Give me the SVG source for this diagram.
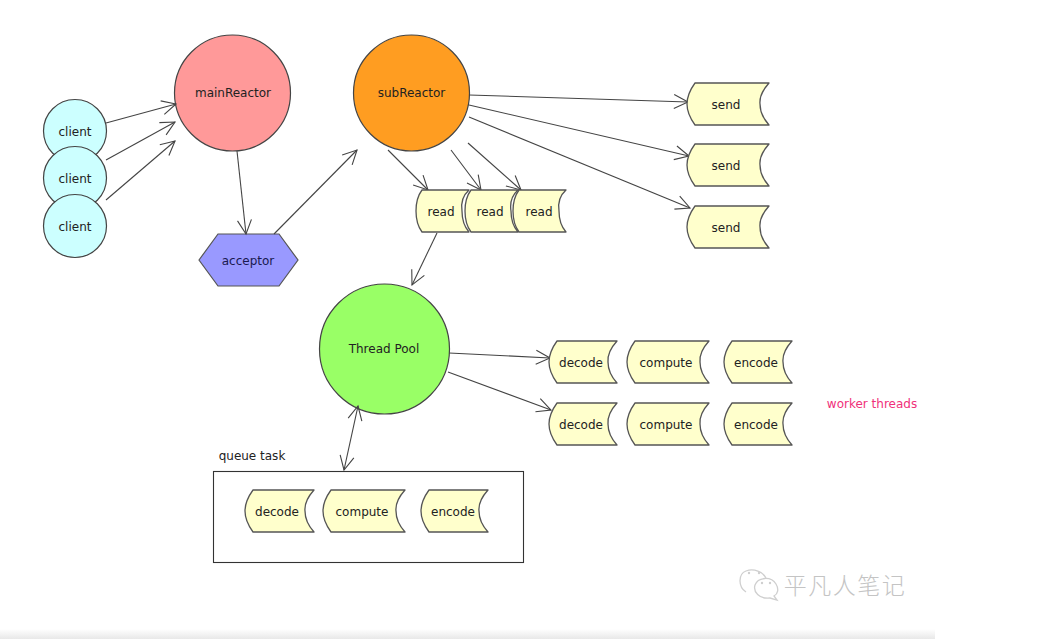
<svg xmlns="http://www.w3.org/2000/svg" width="1056" height="639" viewBox="0 0 1056 639">
  <style>
    text { font-family: "DejaVu Sans", "Noto Sans", sans-serif; font-size: 12px; fill: #222; text-anchor: middle; }
    .step { fill: #ffffcc; stroke: #555; stroke-width: 1.3; stroke-linejoin: round; }
    .round { stroke: #444; stroke-width: 1.2; }
    .wire { fill: none; stroke: #444; stroke-width: 1.1; marker-end: url(#open); }
    .wire2 { fill: none; stroke: #444; stroke-width: 1.1; marker-start: url(#openStart); marker-end: url(#open); }
    .mark { fill: none; stroke: #cfcfcf; stroke-width: 1.3; }
    .dot { fill: #cfcfcf; }
  </style>
  <defs>
    <marker id="open" markerUnits="userSpaceOnUse" markerWidth="20" markerHeight="20" refX="15" refY="10" orient="auto">
      <path d="M1 3 L15 10 L1 17" fill="none" stroke="#444" stroke-width="1.1"/>
    </marker>
    <marker id="openStart" markerUnits="userSpaceOnUse" markerWidth="20" markerHeight="20" refX="5" refY="10" orient="auto">
      <path d="M19 3 L5 10 L19 17" fill="none" stroke="#444" stroke-width="1.1"/>
    </marker>
    <linearGradient id="floor" x1="0" y1="0" x2="0" y2="1">
      <stop offset="0" stop-color="#fff"/>
      <stop offset="1" stop-color="#e8e8e8"/>
    </linearGradient>
  </defs>

  <rect width="1056" height="639" fill="#fff"/>
  <rect x="0" y="629" width="935" height="10" fill="url(#floor)"/>

  <g id="queue-frame">
    <rect x="213.500" y="471.500" width="310" height="91" fill="#fff" stroke="#333" stroke-width="1.1"/>
    <text x="252" y="460">queue task</text>
  </g>

  <g id="client-1"><circle class="round" cx="75" cy="131" r="31.500" fill="#ccffff"/><text x="75" y="136">client</text></g>
  <g id="client-2"><circle class="round" cx="75" cy="178" r="31.500" fill="#ccffff"/><text x="75" y="183">client</text></g>
  <g id="client-3"><circle class="round" cx="75" cy="226" r="31.500" fill="#ccffff"/><text x="75" y="231">client</text></g>

  <g id="mainReactor"><circle class="round" cx="232.500" cy="93" r="58" fill="#ff9999"/><text x="233" y="97">mainReactor</text></g>
  <g id="subReactor"><circle class="round" cx="411.500" cy="93" r="58" fill="#ff9d21"/><text x="411.500" y="97">subReactor</text></g>
  <g id="threadPool"><circle class="round" cx="384.500" cy="349" r="65" fill="#99ff66"/><text x="384" y="353">Thread Pool</text></g>

  <g id="acceptor">
    <path d="M199 260 L218 234 L279 234 L298 260 L279 286 L218 286 Z" fill="#9999ff" stroke="#555" stroke-width="1.2"/>
    <text x="248" y="265" style="fill:#1a1a50">acceptor</text>
  </g>

  <g id="connectors">
    <path class="wire" d="M106 123 L176 104"/>
    <path class="wire" d="M106 160 L175 122"/>
    <path class="wire" d="M106 200 L175 141"/>
    <path class="wire" d="M237 151 L246 234"/>
    <path class="wire" d="M274 234 L357 150"/>
    <path class="wire" d="M388 150 L428 190"/>
    <path class="wire" d="M451 150 L481 190"/>
    <path class="wire" d="M468 143 L521 190"/>
    <path class="wire" d="M469 95 L688 102"/>
    <path class="wire" d="M469 105 L689 156"/>
    <path class="wire" d="M469 117 L690 208"/>
    <path class="wire" d="M437 233 L412 285"/>
    <path class="wire" d="M449 353 L550 358"/>
    <path class="wire" d="M448 372 L551 410"/>
    <path class="wire2" d="M358 406 L344 470"/>
  </g>

  <g id="read-1"><path class="step" d="M422 190 H469 Q460 198 462 211 Q462 224 469 232 H422 Q416 224 416 211 Q416 198 422 190 Z"/><text x="441" y="216">read</text></g>
  <g id="read-2"><path class="step" d="M471 190 H518 Q509 198 511 211 Q511 224 518 232 H471 Q465 224 465 211 Q465 198 471 190 Z"/><text x="490" y="216">read</text></g>
  <g id="read-3"><path class="step" d="M519 190 H566 Q557 198 559 211 Q559 224 566 232 H519 Q513 224 513 211 Q513 198 519 190 Z"/><text x="539" y="216">read</text></g>

  <g id="send-1"><path class="step" d="M695 83 H769 Q759 94 760 104 Q760 115 769 125 H695 Q687 114 687 104 Q687 94 695 83 Z"/><text x="726" y="109">send</text></g>
  <g id="send-2"><path class="step" d="M695 144 H769 Q759 155 760 165 Q760 176 769 186 H695 Q687 175 687 165 Q687 155 695 144 Z"/><text x="726" y="170">send</text></g>
  <g id="send-3"><path class="step" d="M695 206 H769 Q759 217 760 227 Q760 238 769 248 H695 Q687 237 687 227 Q687 217 695 206 Z"/><text x="726" y="232">send</text></g>

  <g id="decode-1"><path class="step" d="M557 341 H617 Q607 352 608 362 Q608 373 617 383 H557 Q549 372 549 362 Q549 352 557 341 Z"/><text x="581" y="367">decode</text></g>
  <g id="compute-1"><path class="step" d="M635 341 H709 Q699 352 700 362 Q700 373 709 383 H635 Q627 372 627 362 Q627 352 635 341 Z"/><text x="666" y="367">compute</text></g>
  <g id="encode-1"><path class="step" d="M732 341 H792 Q782 352 783 362 Q783 373 792 383 H732 Q724 372 724 362 Q724 352 732 341 Z"/><text x="756" y="367">encode</text></g>

  <g id="decode-2"><path class="step" d="M557 403 H617 Q607 414 608 424 Q608 435 617 445 H557 Q549 434 549 424 Q549 414 557 403 Z"/><text x="581" y="429">decode</text></g>
  <g id="compute-2"><path class="step" d="M635 403 H709 Q699 414 700 424 Q700 435 709 445 H635 Q627 434 627 424 Q627 414 635 403 Z"/><text x="666" y="429">compute</text></g>
  <g id="encode-2"><path class="step" d="M732 403 H792 Q782 414 783 424 Q783 435 792 445 H732 Q724 434 724 424 Q724 414 732 403 Z"/><text x="756" y="429">encode</text></g>

  <g id="queue-decode"><path class="step" d="M253 490 H314 Q304 501 305 511 Q305 522 314 532 H253 Q245 521 245 511 Q245 501 253 490 Z"/><text x="277" y="516">decode</text></g>
  <g id="queue-compute"><path class="step" d="M331 490 H405 Q395 501 396 511 Q396 522 405 532 H331 Q323 521 323 511 Q323 501 331 490 Z"/><text x="362" y="516">compute</text></g>
  <g id="queue-encode"><path class="step" d="M429 490 H488 Q478 501 479 511 Q479 522 488 532 H429 Q421 521 421 511 Q421 501 429 490 Z"/><text x="453" y="516">encode</text></g>

  <text x="872" y="408" style="fill:#f0307a">worker threads</text>

  <!-- account mark, lower right -->
  <g id="account-mark">
    <path class="mark" d="M746 592 C738 587 738 574 746 571 C754 568 763 572 766 578"/>
    <path class="mark" d="M770 598 C759 599 753 592 755 585 C758 577 771 576 776 584 C779 589 778 594 774 596 L777 600 Z"/>
    <circle class="dot" cx="749" cy="573" r="1.200"/>
    <circle class="dot" cx="759" cy="573" r="1.200"/>
    <circle class="dot" cx="762" cy="583" r="1.200"/>
    <circle class="dot" cx="770" cy="583" r="1.200"/>
    <text x="845" y="594" style="font-family:'Noto Sans CJK SC',sans-serif;font-size:23px;font-weight:300;fill:#c4c4c4;letter-spacing:1.500px">平凡人笔记</text>
  </g>
</svg>
